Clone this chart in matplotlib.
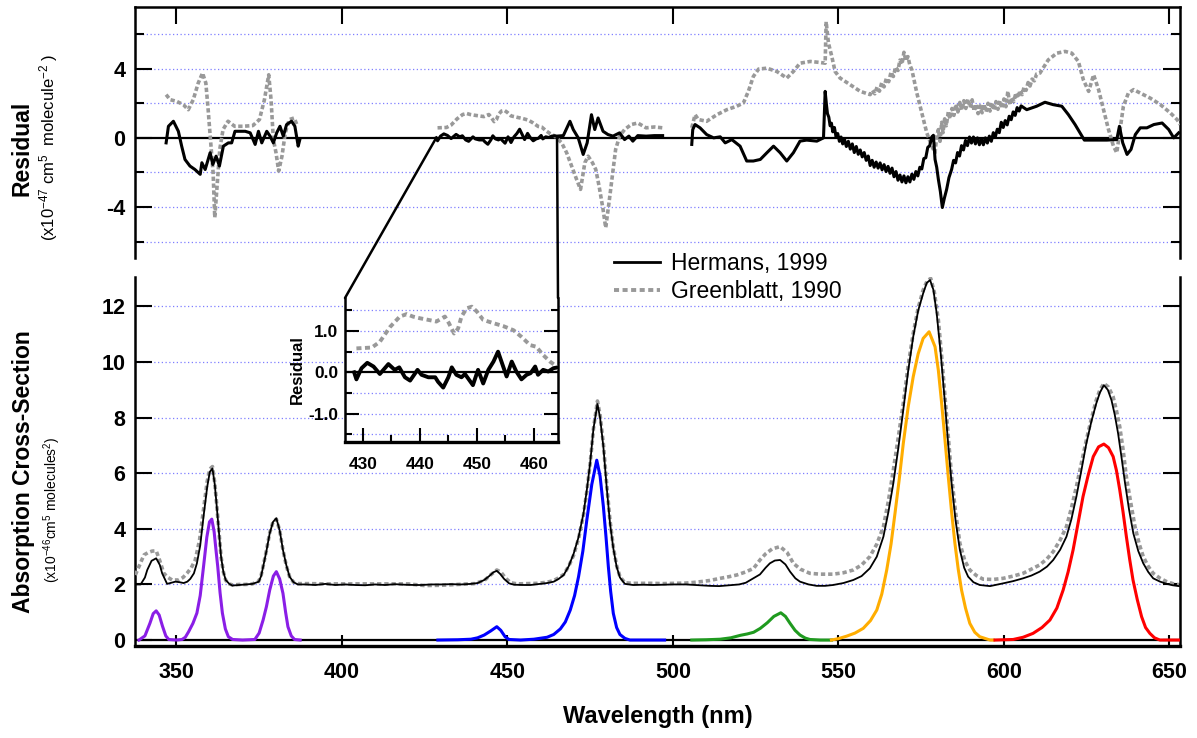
import numpy as np
import matplotlib
matplotlib.use('Agg')
import matplotlib.pyplot as plt
from matplotlib.lines import Line2D
from matplotlib.patches import ConnectionPatch
from matplotlib.ticker import MultipleLocator

plt.rcParams['font.family'] = ['Liberation Sans', 'DejaVu Sans']
plt.rcParams['mathtext.fontset'] = 'custom'
plt.rcParams['mathtext.rm'] = 'Liberation Sans'
plt.rcParams['mathtext.it'] = 'Liberation Sans:italic'
plt.rcParams['mathtext.bf'] = 'Liberation Sans:bold'

#----------------------------------------------------------------------------
# absorption spectra (x1e-46), offset of 2 included
herm_wl = [337.6, 339.2, 340.5, 341.2, 342.5, 343.9, 345.0, 345.7, 347.2, 348.5, 349.7, 351.0, 352.2,
           353.3, 354.2, 355.3, 356.2, 357.2, 358.2, 359.3, 360.1, 360.9, 361.6, 362.2, 362.9, 363.5,
           364.2, 364.9, 366.0, 366.9, 369.0, 371.0, 373.0, 374.9, 375.6, 376.2, 377.2, 378.2, 379.2,
           380.2, 381.2, 382.2, 383.2, 384.2, 385.4, 386.7, 389, 392, 395, 398, 401, 404, 407, 410,
           413, 416, 419, 422, 424, 427, 430, 433, 436, 439, 441, 443, 444.5, 445.8, 446.8, 447.8,
           449.0, 450.5, 452, 455, 457, 460, 462, 464, 465.5, 467, 468.5, 470, 471.5, 473, 474, 475,
           476, 477.2, 478, 479, 480, 481, 482, 483, 484, 485.5, 488, 491, 494, 497, 500, 504, 508,
           511, 514, 517, 520, 522, 524, 526.3, 528, 529.3, 530.8, 532.4, 534, 535.4, 537, 538.4,
           541, 543.4, 546, 548.4, 551.5, 554.5, 557, 559.5, 561.6, 563.6, 565.1, 566.6, 568.1,
           569.6, 571.1, 572.6, 574.1, 575.6, 576.7, 577.7, 578.7, 579.7, 581.0, 582.2, 583.2, 584.2,
           585.4, 586.7, 588.0, 589.2, 590.8, 592.7, 595.8, 599.8, 602.8, 605.8, 608.3, 610.8, 613.0,
           614.9, 617.0, 618.9, 620.4, 621.9, 623.4, 624.9, 626.4, 627.9, 629.0, 630.2, 631.4, 632.5,
           633.5, 634.5, 635.5, 636.6, 637.8, 639.1, 640.6, 642.1, 643.6, 645.1, 647.2, 649.2, 651.0,
           652.9]
herm_abs = [2.00, 2.00, 2.25, 2.52, 2.85, 2.94, 2.70, 2.40, 2.02, 2.06, 2.10, 2.08, 2.05,
            2.10, 2.20, 2.40, 2.76, 3.40, 4.44, 5.50, 6.05, 6.17, 5.60, 4.80, 3.80, 2.99,
            2.45, 2.16, 2.02, 1.96, 1.98, 2.00, 2.02, 2.10, 2.30, 2.63, 3.20, 3.84, 4.25,
            4.38, 3.95, 3.24, 2.70, 2.28, 2.08, 2.00, 2.00, 1.98, 2.02, 1.98, 2.00, 1.98, 1.97, 2.00,
            1.98, 2.01, 1.99, 1.98, 1.98, 2.00, 2.00, 2.01, 2.00, 2.02, 2.05, 2.16, 2.30, 2.44, 2.49, 2.38,
            2.20, 2.04, 1.99, 1.98, 1.98, 2.02, 2.05, 2.10, 2.20, 2.34, 2.65, 3.10, 3.70, 4.56, 5.40, 6.36,
            7.60, 8.49, 8.00, 6.95, 5.50, 4.20, 3.30, 2.64, 2.25, 2.02, 1.98, 1.99, 1.98, 1.99, 2.00, 2.00, 1.97,
            1.95, 1.94, 1.97, 2.00, 2.06, 2.20, 2.36, 2.60, 2.76, 2.86, 2.88, 2.72, 2.46, 2.22, 2.10,
            2.00, 1.95, 1.95, 1.98, 2.05, 2.16, 2.30, 2.58, 3.00, 3.72, 4.60, 5.64, 6.90,
            8.28, 9.70, 10.91, 11.85, 12.47, 12.85, 12.95, 12.60, 11.75, 10.20, 8.51, 7.00, 5.64,
            4.30, 3.24, 2.60, 2.28, 2.08, 1.98, 1.94, 2.04, 2.12, 2.22, 2.32, 2.46, 2.64,
            2.88, 3.25, 3.72, 4.35, 5.16, 6.10, 7.07, 7.85, 8.51, 8.90, 9.17, 9.00, 8.63,
            8.10, 7.43, 6.60, 5.64, 4.70, 3.84, 3.20, 2.76, 2.45, 2.22, 2.10, 2.02, 1.97,
            1.94]

green_wl = [337.6, 338.9, 340.2, 341.5, 342.7, 343.9, 345.0, 346.2, 347.5, 348.7, 350.7, 352.0, 353.2,
            354.5, 355.7, 357.0, 358.2, 359.3, 360.1, 360.9, 361.6, 362.2, 362.9, 363.5, 364.2, 364.9,
            366.0, 367, 369, 371, 373, 374.9, 375.6, 376.2, 377.2, 378.2, 379.2, 380.2, 381.2, 382.2,
            383.2, 384.2, 385.4, 386.7, 390, 395, 400, 405, 410, 415, 420, 425, 430, 435, 440, 443,
            445, 446.8, 448, 449.5, 451, 453, 456, 459, 462, 464, 465.5, 467, 468.5, 470, 471.5, 473,
            474, 475, 476, 477.2, 478, 479, 480, 481, 482, 483, 484, 485.5, 488, 491, 494, 497, 500,
            504, 507, 511, 514.3, 517, 519.3, 522, 524.4, 526.3, 528, 530, 532.4, 534.5, 536.4, 538.5,
            541.4, 544.5, 548.4, 551.5, 554.5, 557, 559.5, 561.6, 563.6, 565.1, 566.6, 568.1, 569.6,
            571.1, 572.6, 574.1, 575.6, 576.8, 577.9, 579.0, 580.2, 581.2, 582.2, 583.2, 584.2, 585.4,
            586.7, 588.2, 589.7, 591.7, 593.7, 596.8, 599.8, 602.8, 605.8, 608.3, 610.8, 613.0, 614.9,
            617.0, 618.9, 620.4, 621.9, 623.4, 624.9, 626.4, 627.9, 629.0, 630.2, 631.6, 633.0, 634.0,
            635.0, 636.0, 637.0, 638.3, 639.6, 640.9, 642.1, 643.6, 645.1, 647.2, 649.2, 651.0, 652.9]
green_abs = [2.34, 2.70, 3.06, 3.15, 3.20, 3.21, 2.85, 2.40, 2.25, 2.16, 2.16, 2.25, 2.40,
             2.60, 2.88, 3.60, 4.68, 5.70, 6.15, 6.24, 5.65, 4.85, 3.85, 3.00, 2.45, 2.15,
             2.02, 1.98, 2.00, 2.00, 2.02, 2.12, 2.32, 2.65, 3.22, 3.86, 4.25, 4.35, 3.95, 3.24,
             2.68, 2.28, 2.08, 2.03, 2.03, 2.02, 2.02, 2.02, 2.02, 2.02, 2.02, 1.96, 1.97, 2.00, 2.03, 2.14,
             2.35, 2.52, 2.45, 2.22, 2.06, 2.02, 2.03, 2.04, 2.08, 2.14, 2.24, 2.36, 2.65, 3.05, 3.65, 4.50,
             5.35, 6.35, 7.60, 8.60, 8.10, 7.05, 5.60, 4.30, 3.35, 2.68, 2.28, 2.06, 2.04, 2.04, 2.04, 2.03, 2.04,
             2.05, 2.08, 2.14, 2.22, 2.28, 2.34, 2.45, 2.58, 2.88, 3.10, 3.28, 3.36, 3.15, 2.76, 2.55,
             2.40, 2.37, 2.37, 2.42, 2.52, 2.70, 3.00, 3.45, 4.08, 5.00, 6.12, 7.30, 8.51,
             9.90, 11.03, 11.95, 12.59, 12.92, 13.01, 12.50, 11.51, 10.20, 8.75, 7.30, 5.87, 4.60,
             3.48, 2.85, 2.52, 2.32, 2.19, 2.18, 2.22, 2.30, 2.40, 2.55, 2.70, 2.92, 3.18,
             3.60, 4.08, 4.75, 5.52, 6.35, 7.19, 7.95, 8.63, 9.00, 9.23, 9.10, 8.75, 8.25,
             7.67, 6.85, 5.87, 4.95, 4.08, 3.45, 3.00, 2.65, 2.40, 2.22, 2.10, 2.03, 1.99]

# fitted band components
violet_wl = [338.7, 340.5, 342.0, 343.0, 343.9, 344.8, 345.8, 346.8, 347.7, 350, 351.7, 352.7, 353.7,
             355.0, 356.2, 357.2, 358.2, 359.2, 360.0, 360.7, 361.4, 362.0, 362.5, 363.2, 363.9, 364.8,
             365.7, 367.0, 370, 373.7, 375.0, 376.2, 377.2, 378.2, 379.3, 380.2, 381.2, 382.2, 383.0,
             383.7, 384.7, 385.7, 387.4]
violet_abs = [0.00, 0.15, 0.60, 0.95, 1.05, 0.90, 0.50, 0.15, 0.02, 0.00, 0.02, 0.10, 0.30,
              0.60, 0.97, 1.60, 2.64, 3.70, 4.25, 4.35, 3.90, 3.20, 2.64, 1.70, 0.97, 0.40,
              0.12, 0.02, 0.00, 0.02, 0.25, 0.72, 1.20, 1.80, 2.30, 2.46, 2.20, 1.68, 1.00,
              0.48, 0.15, 0.02, 0.00]
blue_wl = [429.0, 435, 439.0, 441.0, 443.0, 445.0, 446.8, 448.0, 449.3, 450.5, 454, 458, 462, 464.0,
           466.0, 467.5, 469.0, 470.3, 471.5, 472.8, 474.0, 475.5, 477.0, 478.0, 479.0, 479.8, 480.5,
           481.2, 482.0, 483.0, 484.0, 485.5, 487.0, 492, 497.5]
blue_abs = [0.00, 0.01, 0.03, 0.08, 0.18, 0.33, 0.48, 0.35, 0.12, 0.02, 0.00, 0.03, 0.10, 0.20,
            0.40, 0.65, 1.08, 1.60, 2.28, 3.20, 4.32, 5.60, 6.47, 5.90, 4.80, 3.70, 2.64,
            1.75, 0.96, 0.45, 0.20, 0.06, 0.00, 0.00, 0.00]
grn_wl = [505.7, 510, 514.3, 517.5, 520.4, 522.5, 524.4, 526.4, 528.5, 530.5, 532.6, 534.0, 535.4,
          536.9, 538.4, 540.0, 541.4, 544.5, 547.9]
grn_abs = [0.00, 0.01, 0.03, 0.08, 0.17, 0.22, 0.28, 0.42, 0.62, 0.85, 0.98, 0.85, 0.60,
           0.35, 0.18, 0.07, 0.02, 0.00, 0.00]
orange_wl = [547.9, 550.0, 552.5, 555.0, 557.5, 559.7, 561.6, 563.1, 564.6, 565.9, 567.1, 568.4, 569.6,
             571.1, 572.6, 574.1, 575.6, 577.4, 579.2, 580.2, 581.2, 582.2, 583.2, 584.2, 585.2, 586.2,
             587.2, 588.4, 589.7, 591.2, 592.7, 595.8, 596.8]
orange_abs = [0.00, 0.05, 0.14, 0.25, 0.42, 0.70, 1.08, 1.65, 2.52, 3.45, 4.56, 5.80, 7.07,
              8.40, 9.47, 10.30, 10.85, 11.09, 10.55, 9.70, 8.51, 7.20, 5.87, 4.60, 3.48, 2.55,
              1.80, 1.15, 0.60, 0.28, 0.12, 0.00, 0.00]
red_wl = [597.3, 600, 602.8, 605.8, 608.8, 611.5, 613.9, 616.0, 617.9, 619.4, 620.9, 622.4, 623.9,
          625.5, 627.0, 628.6, 630.2, 631.6, 633.0, 634.0, 635.0, 636.0, 637.0, 638.0, 639.0, 640.3,
          641.6, 642.8, 644.1, 645.5, 647.1, 652.1, 653.0]
red_abs = [0.00, 0.01, 0.02, 0.10, 0.24, 0.45, 0.72, 1.15, 1.80, 2.45, 3.24, 4.20, 5.16,
           5.95, 6.60, 6.95, 7.05, 6.92, 6.60, 6.10, 5.40, 4.60, 3.72, 2.90, 2.16, 1.45,
           0.84, 0.45, 0.24, 0.08, 0.00, 0.00, 0.00]

# residuals (x1e-47), three wavelength windows each
herm_res_wl = [
    [346.9, 347.6, 349.1, 350.6, 351.6, 352.6, 354.1, 355.6, 357.2, 357.7, 358.7, 360.2, 361.0, 362.0,
     363.0, 364.2, 365.7, 366.7, 367.7, 369.3, 370.8, 372.3, 373.8, 374.8, 375.8, 377.3, 378.3, 379.3,
     380.3, 381.3, 382.3, 383.3, 384.8, 385.8, 386.8, 387.3],
    [428.5, 428.9, 429.8, 430.8, 431.9, 433.0, 434.5, 435.6, 436.4, 437.4, 438.3, 439.6, 440.3, 441.5,
     442.7, 443.2, 444.1, 445.0, 445.6, 446.4, 447.3, 447.9, 449.3, 450.2, 451.1, 452.0, 452.9, 453.7,
     454.5, 455.2, 456.1, 456.9, 457.8, 458.7, 459.4, 460.2, 460.7, 461.6, 462.5, 463.4, 464.2, 464.9,
     466.9, 468.9, 469.9, 471.4, 472.9, 474.1, 475.4, 476.4, 477.4, 478.9, 480.4, 481.9, 483.9, 485.4,
     486.7, 487.9, 489.4, 491.9, 494.4, 496.9],
    [505.7, 506.0, 506.7, 508.2, 510.2, 512.3, 514.3, 515.8, 517.8, 520.3, 522.3, 524.3, 526.4, 528.4,
     530.4, 532.4, 534.4, 536.4, 538.4, 540.4, 543.5, 545.5,
     546.0, 546.4, 546.7, 547.1, 547.5, 547.9, 548.3, 548.8, 549.3, 549.8, 550.3, 550.8, 551.3, 551.8,
     552.4, 553.0, 553.6, 554.2, 554.8, 555.4, 556.0, 556.6, 557.2, 557.8, 558.4, 559.0, 559.6, 560.2,
     560.8, 561.4, 562.0, 562.6, 563.2, 563.8, 564.4, 565.0, 565.6, 566.2, 566.8, 567.4, 568.0, 568.6,
     569.2, 569.8, 570.4, 571.0, 571.6, 572.2, 572.8, 573.4, 574.0, 574.6, 575.2, 575.8, 576.4, 577.0,
     577.6, 578.2, 578.7, 579.2, 579.7, 580.2, 580.8, 581.4, 582.0, 582.7, 583.4, 584.2, 584.8, 585.4,
     586.0, 586.6, 587.2, 587.8, 588.4, 589.0, 589.6, 590.2, 590.8, 591.4, 592.0, 592.6, 593.2, 593.8,
     594.4, 595.0, 595.6, 596.2, 596.8, 597.4, 598.0, 598.6, 599.2, 599.8, 600.4, 601.0, 601.6, 602.2,
     602.8, 603.4, 604.0, 604.6, 605.2,
     606.9, 609.9, 612.4, 614.9, 617.5, 619.5, 621.5, 623.0, 624.3, 627.1, 631.1, 634.1, 634.9, 635.9,
     637.2, 638.4, 639.7, 641.2, 643.2, 645.3, 647.8, 649.8, 651.3, 652.8],
]
herm_res = [
    [-0.29, 0.67, 0.96, 0.38, -0.48, -1.25, -1.63, -1.83, -2.11, -1.44, -1.83, -0.86, -1.54, -1.06,
     -1.63, -0.48, -0.29, -0.29, 0.38, 0.38, 0.38, 0.29, -0.38, 0.38, -0.29, 0.38, 0.10, -0.29,
     0.29, 0.67, 0.10, 0.77, 0.96, 0.67, -0.48, -0.10],
    [0.00, -0.17, 0.10, 0.23, 0.14, -0.04, 0.20, 0.06, 0.12, -0.12, -0.20, 0.06, -0.06, -0.12,
     -0.12, -0.23, -0.37, -0.12, 0.12, -0.06, -0.12, -0.04, -0.31, 0.06, -0.27, 0.06, 0.26, 0.50,
     0.18, -0.10, 0.26, 0.02, -0.17, -0.06, -0.02, 0.14, -0.06, 0.06, 0.02, 0.10, 0.12, 0.10,
     0.13, 0.96, 0.48, 0.00, -0.96, -0.29, 1.34, 0.48, 1.15, 0.38, 0.19, 0.10, 0.29, -0.10,
     0.10, -0.19, 0.13, 0.10, 0.13, 0.13],
    [-0.38, 0.48, 0.77, 0.58, 0.19, 0.00, 0.06, -0.29, -0.10, -0.48, -1.34, -1.34, -1.25, -0.86,
     -0.48, -0.86, -1.34, -0.86, -0.19, -0.13, -0.19, 0.00,
     2.69, 1.90, 1.40, 1.20, 0.70, 0.85, 0.35, 0.60, 0.05, 0.25, -0.20, 0.05, -0.35, -0.05,
     -0.50, -0.20, -0.65, -0.35, -0.85, -0.50, -0.95, -0.70, -1.10, -0.85, -1.30, -1.05, -1.60, -1.30,
     -1.70, -1.40, -1.75, -1.45, -1.85, -1.55, -1.95, -1.65, -2.05, -1.75, -2.25, -1.95, -2.45, -2.15,
     -2.55, -2.20, -2.60, -2.25, -2.55, -2.10, -2.40, -1.95, -2.20, -1.70, -1.80, -1.20, -1.15, -0.55,
     -0.45, 0.05, 0.15, -1.25, -1.70, -2.40, -3.10, -4.03, -3.50, -2.98, -2.30, -1.83, -1.30, -1.45,
     -0.85, -1.05, -0.45, -0.70, -0.15, -0.45, 0.05, -0.30, 0.05, -0.35, 0.00, -0.40, -0.05, -0.40,
     0.00, -0.30, 0.10, -0.20, 0.30, 0.05, 0.50, 0.30, 0.90, 0.60, 1.00, 0.75, 1.25, 1.05,
     1.50, 1.30, 1.75, 1.55, 1.85,
     1.63, 1.83, 2.06, 1.92, 1.83, 1.34, 0.77, 0.29, -0.13, -0.13, -0.13, -0.10, 0.67, -0.29,
     -0.96, -0.67, 0.19, 0.58, 0.58, 0.77, 0.86, 0.48, 0.00, 0.29],
]
green_res_wl = [
    [346.9, 348.1, 350.1, 352.1, 353.6, 355.1, 356.6, 357.9, 358.9, 359.6, 360.3, 361.1, 361.6, 362.3,
     363.1, 364.1, 365.6, 367.6, 370.1, 373.1, 375.1, 376.6, 377.9, 378.6, 379.3, 380.1, 380.9, 381.9,
     382.9, 384.1, 385.6, 386.6],
    [428.9, 431.6, 433.0, 434.8, 436.5, 437.7, 438.8, 440.0, 441.5, 442.9, 444.4, 445.1, 446.0, 446.7,
     447.3, 448.2, 449.1, 450.0, 451.1, 452.9, 454.6, 456.4, 457.8, 459.3, 460.4, 461.6, 462.8, 464.2,
     464.9, 466.4, 467.9, 469.4, 470.9, 472.1, 473.4, 474.4, 475.7, 476.7, 477.7, 478.9, 479.7, 480.7,
     481.7, 482.7, 483.9, 485.4, 487.4, 489.4, 491.9, 494.4, 496.9],
    [505.7, 506.7, 507.7, 510.2, 513.3, 516.3, 519.3, 521.3, 522.8, 524.3, 525.9, 528.4, 531.4, 534.4,
     536.4, 538.4, 541.5, 544.5, 546.0, 546.3, 547.0, 548.0, 549.0, 550.5, 553.6, 556.6,
     559.6, 560.3, 561.0, 561.7, 562.4, 563.1, 563.8, 564.5, 565.2, 565.9, 566.6, 567.3, 568.0, 568.6,
     569.2, 569.8, 570.4, 571.0, 571.6,
     572.2, 573.7, 575.2, 576.7, 578.2, 579.2,
     579.7, 580.2, 580.7, 581.2, 581.6, 582.1, 582.6, 583.2, 583.7, 584.3, 584.9, 585.5, 586.1, 586.7,
     587.3, 587.9, 588.5, 589.1, 589.8, 590.4, 591.0, 591.6, 592.2, 592.8, 593.4, 594.0, 594.6, 595.2,
     595.8, 596.4, 597.0, 597.6, 598.2, 598.8, 599.4, 600.0, 600.6, 601.2, 601.8, 602.4, 603.0, 603.6,
     604.2, 604.9, 605.5, 606.1, 606.7, 607.3, 607.9, 608.5, 609.2, 609.9,
     610.9, 613.4, 616.0, 618.5, 620.5, 622.5, 624.0, 625.6,
     627.1, 628.6, 630.1, 631.6, 633.1, 634.1, 635.1, 636.1, 637.6, 639.2, 641.2, 644.2, 647.3, 650.3,
     652.3, 653.3],
]
green_res = [
    [2.50, 2.21, 2.11, 1.92, 1.63, 2.21, 3.17, 3.75, 3.17, 1.63, -0.10, -2.02, -4.61, -2.79,
     -0.67, 0.48, 0.96, 0.67, 0.67, 0.71, 1.06, 2.21, 3.65, 2.21, -0.10, -0.86, -1.92, -1.06,
     0.29, 1.06, 1.15, 0.67],
    [0.58, 0.60, 0.74, 1.10, 1.35, 1.41, 1.35, 1.31, 1.27, 1.23, 1.35, 1.19, 0.94, 1.06,
     1.35, 1.55, 1.59, 1.47, 1.27, 1.19, 1.12, 1.02, 0.86, 0.66, 0.62, 0.42, 0.26, 0.12,
     0.00, -0.29, -0.86, -1.63, -2.40, -2.98, -1.44, -1.06, -1.44, -1.83, -2.79, -4.13, -5.20, -3.75,
     -2.21, -0.67, 0.10, 0.48, 0.77, 0.86, 0.58, 0.63, 0.58],
    [0.58, 1.34, 1.06, 0.96, 1.34, 1.63, 1.83, 2.02, 2.69, 3.55, 3.98, 4.03, 3.84, 3.46,
     3.84, 4.32, 4.42, 4.36, 4.32, 6.72, 5.48, 4.71, 3.84, 3.46, 3.07, 2.69,
     2.50, 2.75, 2.55, 2.95, 2.70, 3.20, 2.95, 3.45, 3.25, 3.80, 3.55, 4.10, 3.90, 4.50,
     4.25, 4.95, 4.45, 4.70, 4.20,
     3.94, 2.59, 1.44, 0.29, -0.48, -0.86,
     0.10, 0.48, -0.20, 0.90, 0.30, 1.10, 0.70, 1.50, 1.10, 1.70, 1.30, 1.95, 1.50, 2.05,
     1.60, 2.15, 1.70, 2.25, 1.75, 2.20, 1.55, 1.95, 1.40, 1.85, 1.45, 1.95, 1.50, 2.00,
     1.55, 2.05, 1.60, 2.10, 1.65, 2.15, 1.70, 2.25, 1.80, 2.70, 1.90, 2.35, 2.10, 2.60,
     2.30, 2.75, 2.50, 2.95, 2.75, 3.20, 3.00, 3.40, 3.30, 3.70,
     3.75, 4.51, 4.90, 5.00, 4.90, 4.42, 3.36, 2.69,
     3.65, 2.79, 1.63, 0.48, -0.48, -0.86, 0.48, 1.83, 2.59, 2.79, 2.59, 2.30, 1.92, 1.44,
     1.06, 0.77],
]

# inset zoom window and tie points on the residual axis
inset_lo, inset_hi = 428.5, 465.0

#----------------------------------------------------------------------------
W, H = 1197, 738
fig = plt.figure(figsize=(W / 100, H / 100), dpi=100)

def frac(x0, y0, x1, y1):
    return [x0 / W, 1 - y1 / H, (x1 - x0) / W, (y1 - y0) / H]

ax_r = fig.add_axes(frac(135, 7, 1180, 258))
ax_a = fig.add_axes(frac(135, 277, 1180, 645.6))
ax_i = fig.add_axes(frac(345, 298, 558, 441.7))

grid_kw = dict(color='#7f7fff', linestyle=(0, (1, 2)), linewidth=0.9)
xlim = (337.5, 653.2)
tick_fs = 15.5

# residual panel
ax_r.set_xlim(xlim)
ax_r.set_ylim(-6.95, 7.57)
for wl, r in zip(herm_res_wl, herm_res):
    ax_r.plot(wl, r, color='black', lw=2.2, zorder=4)
for wl, r in zip(green_res_wl, green_res):
    ax_r.plot(wl, r, color='#999999', lw=2.6, linestyle=(0, (1.2, 0.7)), zorder=3)
ax_r.axhline(0, color='black', lw=1.6, zorder=2)
ax_r.set_yticks([-4, 0, 4])
ax_r.set_yticklabels(['-4', '0', '4'])
ax_r.yaxis.set_minor_locator(MultipleLocator(2))
ax_r.xaxis.set_major_locator(MultipleLocator(50))
ax_r.xaxis.tick_top()
ax_r.tick_params(axis='x', which='both', top=True, bottom=False, labeltop=False, labelbottom=False,
                 direction='in', length=12, width=1.5)
ax_r.tick_params(axis='y', which='major', left=True, right=True, direction='in', length=12, width=1.5,
                 labelsize=tick_fs, pad=7)
ax_r.tick_params(axis='y', which='minor', left=True, right=True, direction='in', length=6.5, width=1.5)
for v in [-6, -4, -2, 2, 4, 6]:
    ax_r.axhline(v, zorder=1, **grid_kw)
ax_r.spines['bottom'].set_visible(False)
for s in ['left', 'right', 'top']:
    ax_r.spines[s].set_linewidth(1.8)

# absorption panel
ax_a.set_xlim(xlim)
ax_a.set_ylim(-0.2, 13.06)
ax_a.plot(violet_wl, violet_abs, color='#8a1ee6', lw=2.2, zorder=3)
ax_a.plot(blue_wl, blue_abs, color='#0000ff', lw=2.2, zorder=3)
ax_a.plot(grn_wl, grn_abs, color='#1f9a1f', lw=2.2, zorder=3)
ax_a.plot(orange_wl, orange_abs, color='#ffad00', lw=2.2, zorder=3)
ax_a.plot(red_wl, red_abs, color='#ff0000', lw=2.2, zorder=3)
ax_a.plot(green_wl, green_abs, color='#999999', lw=2.6, linestyle=(0, (1.2, 0.8)), zorder=4)
ax_a.plot(herm_wl, herm_abs, color='black', lw=1.3, zorder=5)
ax_a.axhline(0, color='black', lw=1.6, zorder=2)
for v in range(2, 14, 2):
    ax_a.axhline(v, zorder=1, **grid_kw)
ax_a.set_yticks(range(0, 13, 2))
ax_a.xaxis.set_major_locator(MultipleLocator(50))
ax_a.tick_params(axis='x', direction='in', length=8, width=1.5, labelsize=tick_fs, pad=12)
ax_a.tick_params(axis='y', left=True, right=True, direction='in', length=12, width=1.5,
                 labelsize=tick_fs, pad=7)
ax_a.spines['top'].set_visible(False)
for s in ['left', 'right']:
    ax_a.spines[s].set_linewidth(1.8)
ax_a.spines['bottom'].set_linewidth(2.4)
for lab in ax_a.get_xticklabels() + ax_a.get_yticklabels() + ax_r.get_yticklabels():
    lab.set_fontweight('bold')

# inset of the residual window
ax_i.set_xlim(426.9, 464.2)
ax_i.set_ylim(-1.68, 1.80)
ax_i.plot(green_res_wl[1], green_res[1], color='#999999', lw=2.8, linestyle=(0, (1.3, 0.9)), zorder=3)
ax_i.plot(herm_res_wl[1], herm_res[1], color='black', lw=2.8, zorder=4)
ax_i.axhline(0, color='black', lw=1.6, zorder=2)
for v in [-1.5, -1.0, -0.5, 0.5, 1.0, 1.5]:
    ax_i.axhline(v, zorder=1, **grid_kw)
ax_i.set_yticks([-1.0, 0.0, 1.0])
ax_i.set_yticklabels(['-1.0', '0.0', '1.0'])
ax_i.yaxis.set_minor_locator(MultipleLocator(0.5))
ax_i.set_xticks([430, 440, 450, 460])
ax_i.xaxis.set_minor_locator(MultipleLocator(5))
ax_i.tick_params(axis='both', which='major', direction='in', length=10, width=1.5, labelsize=12.5)
ax_i.tick_params(axis='y', which='both', left=True, right=True, pad=5)
ax_i.tick_params(axis='x', which='major', pad=11)
ax_i.tick_params(axis='both', which='minor', direction='in', length=5, width=1.5)
ax_i.tick_params(axis='y', which='minor', right=True)
ax_i.spines['top'].set_visible(False)
for s in ['left', 'right']:
    ax_i.spines[s].set_linewidth(1.8)
ax_i.spines['bottom'].set_linewidth(2.4)
for lab in ax_i.get_xticklabels() + ax_i.get_yticklabels():
    lab.set_fontweight('bold')
ax_i.set_ylabel('Residual', fontsize=12, fontweight='bold', labelpad=2)

# lines tying the inset to the residual window
for xa, xb in [(inset_lo, 0.0), (inset_hi, 1.0)]:
    con = ConnectionPatch(xyA=(xa, 0), coordsA=ax_r.transData, xyB=(xb, 1.0), coordsB=ax_i.transAxes,
                          color='black', lw=1.8, zorder=10)
    fig.add_artist(con)

# legend
handles = [Line2D([], [], color='black', lw=2.0),
           Line2D([], [], color='#999999', lw=2.8, linestyle=(0, (1.3, 0.9)))]
fig.legend(handles, ['Hermans, 1999', 'Greenblatt, 1990'], loc='upper left',
           bbox_to_anchor=(614 / W, 1 - 252 / H), frameon=False, fontsize=16.5,
           handlelength=2.0, handletextpad=0.5, labelspacing=0.2, borderpad=0, borderaxespad=0)

# axis titles
fig.text(22 / W, 1 - 148 / H, 'Residual', rotation=90, ha='center', va='center',
         fontsize=16.5, fontweight='bold')
fig.text(49 / W, 1 - 147 / H, r'(x10$^{-47}$ cm$^{5}$  molecule$^{-2}$ )', rotation=90,
         ha='center', va='center', fontsize=12)
fig.text(24 / W, 1 - 472 / H, 'Absorption Cross-Section', rotation=90, ha='center', va='center',
         fontsize=16.5, fontweight='bold')
fig.text(52 / W, 1 - 510 / H, r'(x10$^{-46}$cm$^{5}$ molecules$^{2}$)', rotation=90,
         ha='center', va='center', fontsize=10)
fig.text(658 / W, 1 - 717 / H, 'Wavelength (nm)', ha='center', va='center',
         fontsize=17, fontweight='bold')

fig.savefig('out.png', dpi=100)
